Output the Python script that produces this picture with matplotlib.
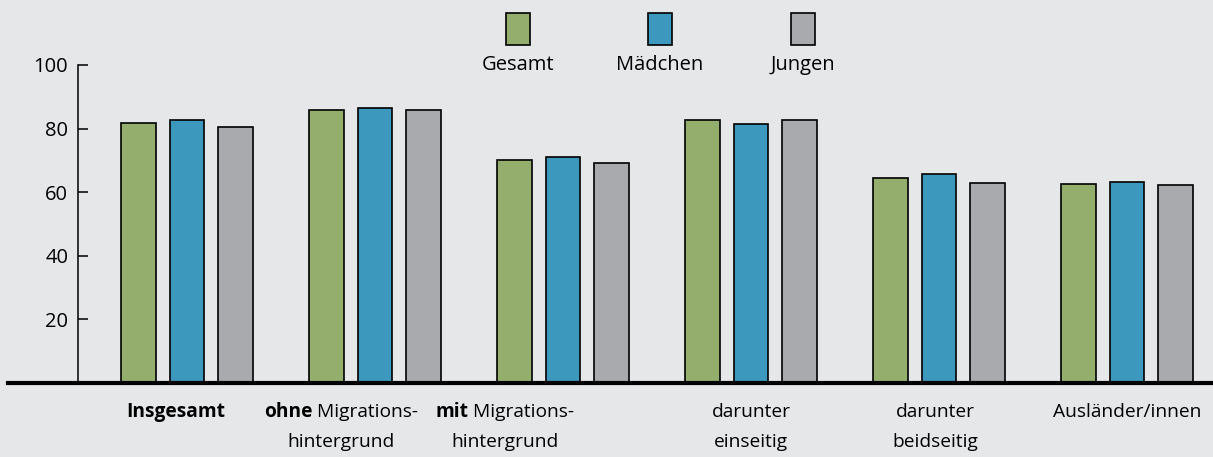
import matplotlib.pyplot as plt
import matplotlib.transforms as mtransforms
from matplotlib.patches import Rectangle
import numpy as np

plt.rcParams['font.family'] = ['Open Sans', 'DejaVu Sans']

# data
series = ["Gesamt", "Mädchen", "Jungen"]
gesamt = [81.8, 85.8, 70.1, 82.6, 64.5, 62.5]
maedchen = [82.7, 86.5, 71.0, 81.4, 65.7, 63.2]
jungen = [80.5, 85.8, 69.2, 82.6, 62.9, 62.3]
# each label: list of lines, each line = (bold part, regular part)
labels = [
    [("Insgesamt", "")],
    [("ohne", " Migrations-"), ("", "hintergrund")],
    [("mit", " Migrations-"), ("", "hintergrund")],
    [("", "darunter"), ("", "einseitig")],
    [("", "darunter"), ("", "beidseitig")],
    [("", "Ausländer/innen")],
]
yticks = [20, 40, 60, 80, 100]

# layout
colors = ["#93ae6d", "#3d98be", "#a9aaae"]
bg = "#e6e7e9"
label_shift = [-0.06, -0.18, -0.31, 0.0, -0.02, 0.0]
bar_w = 0.186
step = 0.26
fs = 14.5
fs_cat = 13.8

fig = plt.figure(figsize=(12.13, 4.57), dpi=100, facecolor=bg)
ax = fig.add_axes([8 / 1213, (457 - 383) / 457, 1 - 8 / 1213, 383 / 457])
ax.set_facecolor(bg)

x = np.arange(len(gesamt))
for i, vals in enumerate([gesamt, maedchen, jungen]):
    ax.bar(x + (i - 1) * step, vals, bar_w, color=colors[i],
           edgecolor="black", linewidth=1.2, zorder=3)

ax.set_xlim((8 - 187) / 188, (1213 - 187) / 188)
ax.set_ylim(0, 383 / 3.18)

for s in ["top", "right"]:
    ax.spines[s].set_visible(False)
ax.spines["bottom"].set_linewidth(3)
ax.spines["bottom"].set_zorder(4)
ax.spines["left"].set_position(("data", (78 - 187) / 188))
ax.spines["left"].set_bounds(0, 100)
ax.spines["left"].set_linewidth(1.1)
ax.set_yticks(yticks)
ax.tick_params(axis="y", direction="in", length=7.5, width=1.1, pad=7,
               labelsize=fs, colors="black")
ax.set_xticks([])

# category labels with mixed weights
fig.canvas.draw()
r = fig.canvas.get_renderer()
base = mtransforms.blended_transform_factory(ax.transData, ax.transAxes)
for gi, lines in enumerate(labels):
    for li, (bold, reg) in enumerate(lines):
        trans = mtransforms.offset_copy(base, fig=fig, x=0, y=-(29 + 30 * li) * 0.72, units="points")
        xpos = x[gi] + label_shift[gi]
        t1 = ax.text(xpos, 0, bold, weight="bold", ha="left", va="center",
                     fontsize=fs_cat, transform=trans, clip_on=False)
        t2 = ax.annotate(reg, xy=(1, 0.5), xycoords=t1, ha="left", va="center",
                         fontsize=fs_cat, annotation_clip=False)
        w = 0
        if bold:
            w += t1.get_window_extent(r).width
        if reg:
            w += t2.get_window_extent(r).width
        t1.set_transform(mtransforms.offset_copy(trans, fig=fig, x=-w / 2, units="dots"))

# legend above the plot
leg_x = [518, 660, 803]
for cx, c, name in zip(leg_x, colors, series):
    fig.patches.append(Rectangle(((cx - 12) / 1213, 1 - 45 / 457), 24 / 1213, 32 / 457,
                                 transform=fig.transFigure, facecolor=c,
                                 edgecolor="black", linewidth=1.2))
    fig.text(cx / 1213, 1 - 65 / 457, name, ha="center", va="center", fontsize=fs)

fig.savefig("out.png", dpi=100, facecolor=bg)
